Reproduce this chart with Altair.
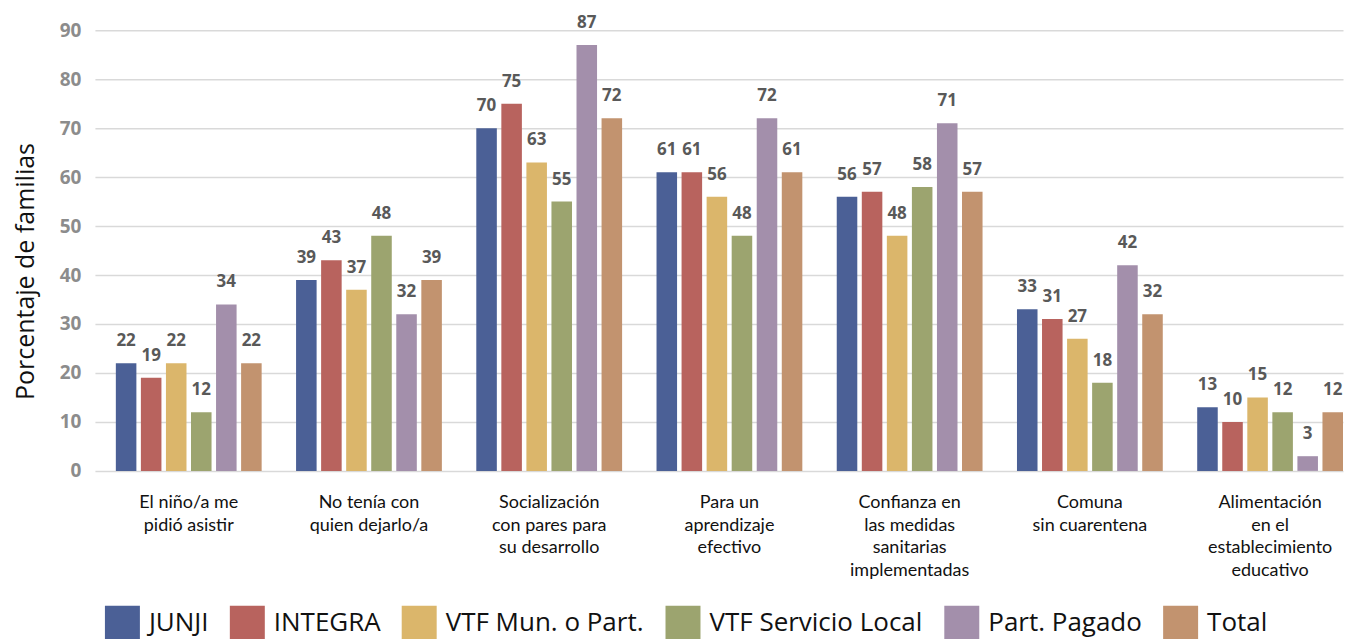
import altair as alt
import pandas as pd

categories = [
    "El niño/a me|pidió asistir",
    "No tenía con|quien dejarlo/a",
    "Socialización|con pares para|su desarrollo",
    "Para un|aprendizaje|efectivo",
    "Confianza en|las medidas|sanitarias|implementadas",
    "Comuna|sin cuarentena",
    "Alimentación|en el|establecimiento|educativo",
]
series = ["JUNJI", "INTEGRA", "VTF Mun. o Part.", "VTF Servicio Local", "Part. Pagado", "Total"]
colors = ["#4b6096", "#b8635e", "#dbb66b", "#9ca46f", "#a38fab", "#c2936f"]

junji = [22, 39, 70, 61, 56, 33, 13]
integra = [19, 43, 75, 61, 57, 31, 10]
vtf_mun = [22, 37, 63, 56, 48, 27, 15]
vtf_sl = [12, 48, 55, 48, 58, 18, 12]
part_pagado = [34, 32, 87, 72, 71, 42, 3]
total = [22, 39, 72, 61, 57, 32, 12]

values = [junji, integra, vtf_mun, vtf_sl, part_pagado, total]
rows = []
for s, vals in zip(series, values):
    for c, v in zip(categories, vals):
        rows.append({"cat": c, "serie": s, "valor": v})
df = pd.DataFrame(rows)

FONT = "Lato"
FONT2 = "Open Sans"

base = alt.Chart(df).encode(
    x=alt.X("cat:N", sort=categories,
            scale=alt.Scale(paddingInner=0.191, paddingOuter=0.058, align=1),
            axis=alt.Axis(title=None, labelAngle=0, ticks=False, domain=False,
                          labelExpr="split(datum.label, '|')",
                          labelFont=FONT, labelFontSize=18, labelColor="#111111",
                          labelLineHeight=22.5, labelPadding=23, labelLimit=300)),
    xOffset=alt.XOffset("serie:N", sort=series,
                        scale=alt.Scale(paddingInner=0.18, paddingOuter=0)),
)

bars = base.mark_bar().encode(
    y=alt.Y("valor:Q", scale=alt.Scale(domain=[0, 90]),
            axis=alt.Axis(title="Porcentaje de familias", values=list(range(0, 91, 10)),
                          ticks=False, domain=False, grid=True,
                          gridColor="#d9d9d9", gridWidth=1.5,
                          labelFont=FONT2, labelFontSize=19, labelFontWeight="bold",
                          labelColor="#8c8c8c", labelPadding=14,
                          titleFont=FONT2, titleFontSize=25, titleFontWeight="normal",
                          titleColor="#111111", titlePadding=21, titleY=241)),
    color=alt.Color("serie:N", sort=series,
                    scale=alt.Scale(domain=series, range=colors),
                    legend=alt.Legend(title=None, orient="none", direction="horizontal",
                                      legendX=10, legendY=576,
                                      symbolType="square", symbolSize=1225,
                                      symbolStrokeWidth=0,
                                      labelFont=FONT2, labelFontSize=26,
                                      labelColor="#111111", columnPadding=21,
                                      labelOffset=9, labelLimit=400)),
)

labels = base.mark_text(baseline="bottom", dy=-13, font=FONT2, fontSize=17,
                        fontWeight="bold", color="#595959").encode(
    y=alt.Y("valor:Q"),
    text=alt.Text("valor:Q"),
)

chart = (bars + labels).properties(
    width=1249, height=441,
    padding={"left": 5, "top": 5, "right": 5, "bottom": 5},
).configure_view(stroke=None)

chart.save("out.html", embed_options={"renderer": "svg", "actions": False})
